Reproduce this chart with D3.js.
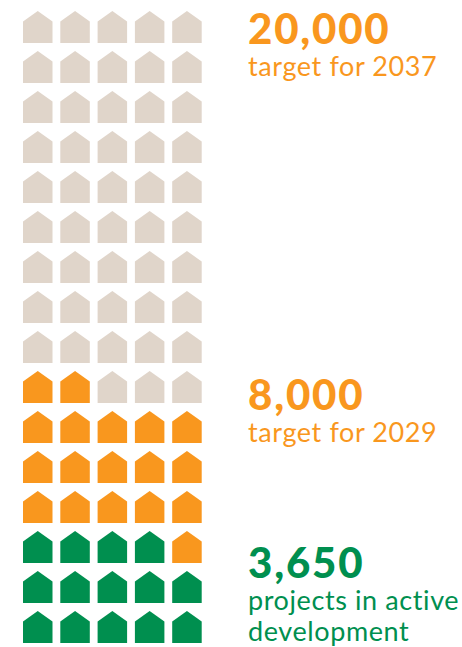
<!DOCTYPE html>
<html>
<head>
<meta charset="utf-8">
<script src="https://cdn.jsdelivr.net/npm/d3@7"></script>
<style>
  html, body { margin: 0; padding: 0; background: #fff; overflow: hidden; }
  svg { display: block; }
  text { font-family: "Lato", sans-serif; }
</style>
</head>
<body>
<div id="chart"></div>
<script>
// Milestones, smallest first, each one counted cumulatively
const milestones = [3650, 8000, 20000];
const milestoneLabels = ["3,650", "8,000", "20,000"];
const milestoneCaptions = [
  ["projects in active", "development"],
  ["target for 2029"],
  ["target for 2037"]
];
const milestoneColors = ["#008f4f", "#f9971e", "#e0d5ca"];
const captionColors = ["#008f4f", "#f9971e", "#f9971e"];
const unitsPerHouse = 250;
const columnCount = 5;
const rowCount = 16;

const width = 462, height = 647;

const svg = d3.select("#chart").append("svg")
  .attr("width", width).attr("height", height);

const col = d3.scaleLinear().domain([0, columnCount]).range([23, 209.5]);
const row = d3.scaleLinear().domain([0, rowCount]).range([11, 651]);
const houseW = 29.5, houseH = 32, eave = 10.5;

// Each house is counted from the bottom-left corner, row by row
const houseTotal = columnCount * rowCount;
const houses = d3.range(houseTotal).map(i => {
  const value = i * unitsPerHouse;
  const tier = milestones.findIndex(m => value + unitsPerHouse <= m);
  return {
    c: i % columnCount,
    r: rowCount - 1 - Math.floor(i / columnCount),
    tier: tier < 0 ? milestones.length - 1 : tier
  };
});

const housePath = d3.line()([
  [0, eave], [houseW / 2, 0], [houseW, eave], [houseW, houseH], [0, houseH]
]) + "Z";

svg.append("g").selectAll("path").data(houses).join("path")
  .attr("d", housePath)
  .attr("transform", d => `translate(${col(d.c)},${row(d.r)})`)
  .attr("fill", d => milestoneColors[d.tier]);

// Headline figure and caption, with the figure's baseline in page pixels
const headlineBaselines = [578, 410, 44];
const labels = svg.append("g").selectAll("g").data(milestones).join("g")
  .attr("transform", (d, i) => `translate(248,${headlineBaselines[i]})`);

labels.append("text")
  .attr("font-size", 42)
  .attr("font-weight", 900)
  .attr("letter-spacing", 1.8)
  .attr("fill", (d, i) => captionColors[i])
  .text((d, i) => milestoneLabels[i]);

labels.each(function (d, i) {
  d3.select(this).selectAll("text.caption").data(milestoneCaptions[i]).join("text")
    .attr("class", "caption")
    .attr("y", (t, j) => 32 + j * 31)
    .attr("font-size", 27)
    .attr("letter-spacing", 0.6)
    .attr("fill", captionColors[i])
    .text(t => t);
});
</script>
</body>
</html>
